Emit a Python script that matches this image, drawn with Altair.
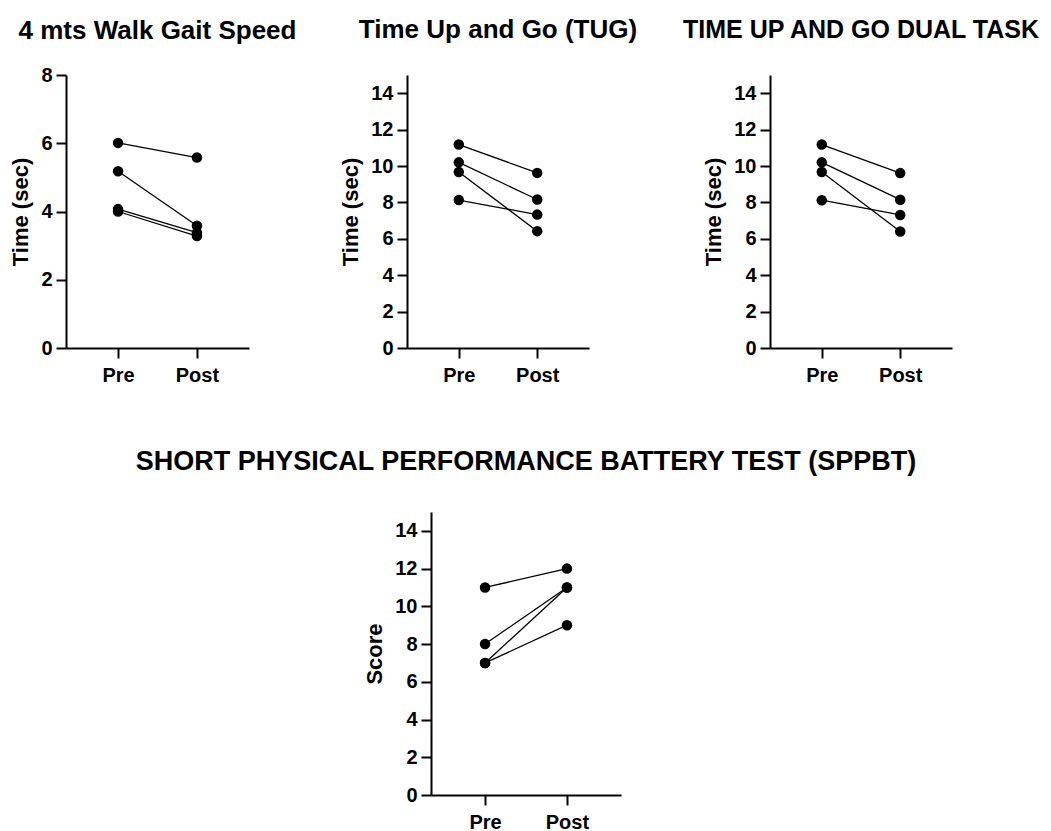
import altair as alt
import pandas as pd

# ---- data ----
phases = ["Pre", "Post"]
subjects = ["S1", "S2", "S3", "S4"]

walk_pre = [6.01, 5.18, 4.07, 4.00]
walk_post = [5.58, 3.58, 3.38, 3.28]

tug_pre = [11.18, 10.2, 9.67, 8.13]
tug_post = [9.62, 8.16, 6.42, 7.33]

dual_pre = [11.18, 10.2, 9.67, 8.12]
dual_post = [9.61, 8.15, 6.40, 7.31]

sppb_pre = [11, 8, 7, 7]
sppb_post = [12, 11, 11, 9]

titles = ["4 mts Walk Gait Speed", "Time Up and Go (TUG)",
          "TIME UP AND GO DUAL TASK",
          "SHORT PHYSICAL PERFORMANCE BATTERY TEST (SPPBT)"]
ytitles = ["Time (sec)", "Time (sec)", "Time (sec)", "Score"]
ticks_8 = [0, 2, 4, 6, 8]
ticks_15 = [0, 2, 4, 6, 8, 10, 12, 14]

FONT = "Liberation Sans"


def make_df(pre, post):
    return pd.DataFrame({
        "subject": subjects + subjects,
        "phase": [phases[0]] * len(pre) + [phases[1]] * len(post),
        "value": pre + post,
    })


def panel(title, ytitle, pre, post, ymax, ticks, w, h, offset, tsize=26):
    df = make_df(pre, post)
    x = alt.X("phase:N", sort=phases,
              scale=alt.Scale(type="point", padding=0.66),
              axis=alt.Axis(title=None, labelAngle=0, labelFontSize=20,
                            labelPadding=7))
    y = alt.Y("value:Q",
              scale=alt.Scale(domain=[0, ymax], nice=False, zero=True),
              axis=alt.Axis(values=ticks, title=ytitle, labelPadding=4,
                            titlePadding=8))
    base = alt.Chart(df)
    lines = base.mark_line(color="black", strokeWidth=1.3).encode(
        x=x, y=y, detail="subject:N")
    pts = base.mark_circle(color="black", size=110, opacity=1).encode(x=x, y=y)
    return alt.layer(lines, pts).properties(
        width=w, height=h,
        title=alt.TitleParams(title, font=FONT, fontSize=tsize, fontWeight="bold",
                              color="black", anchor="middle", frame="group",
                              offset=offset))


def spacer(w, h):
    return alt.Chart(pd.DataFrame({"a": [0]})).mark_rule(opacity=0).encode(
        x=alt.value(0), y=alt.value(0), y2=alt.value(10)
    ).properties(width=w, height=h)


p1 = panel(titles[0], ytitles[0], walk_pre, walk_post, 8, ticks_8, 183, 273, 21)
p2 = panel(titles[1], ytitles[1], tug_pre, tug_post, 15, ticks_15, 182, 273, 32)
p3 = panel(titles[2], ytitles[2], dual_pre, dual_post, 15, ticks_15, 182, 273, 32,
           tsize=25)
p4 = panel(titles[3], ytitles[3], sppb_pre, sppb_post, 15, ticks_15, 190, 283, 36,
           tsize=27)

row1 = alt.hconcat(p1, spacer(158, 273), p2, spacer(181, 273), p3,
                   spacing=0, bounds="flush")
row2 = alt.hconcat(spacer(365, 283), p4, spacing=0, bounds="flush")

chart = alt.vconcat(row1, row2, spacing=63).properties(
    padding={"left": 1, "top": 9, "right": 0, "bottom": 0}
).configure_view(stroke=None).configure_axis(
    grid=False,
    domainColor="black", domainWidth=2,
    tickColor="black", tickWidth=2, tickSize=10,
    labelFont=FONT, labelFontWeight="bold", labelFontSize=20,
    labelColor="black",
    titleFont=FONT, titleFontWeight="bold", titleFontSize=22,
    titleColor="black",
)

chart.save("out.html", embed_options={"renderer": "svg", "actions": False})
